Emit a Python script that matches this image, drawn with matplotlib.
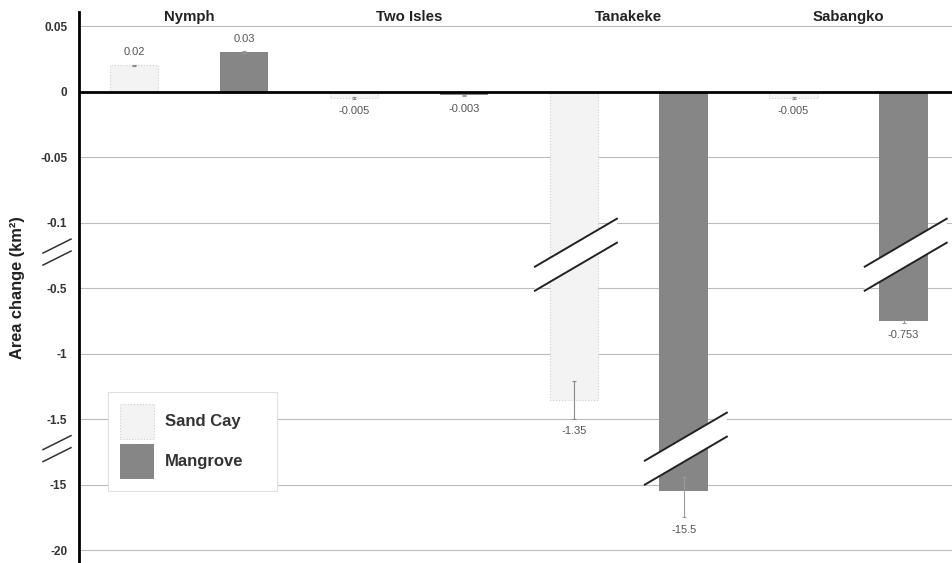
import numpy as np
import matplotlib
matplotlib.use("Agg")
import matplotlib.pyplot as plt
import matplotlib.transforms as mtransforms
from matplotlib.patches import Polygon
from matplotlib.lines import Line2D

plt.rcParams['font.family'] = ['Liberation Sans', 'DejaVu Sans']

# ---- data ----
sites = ["Nymph", "Two Isles", "Tanakeke", "Sabangko"]
sand_cay = [0.02, -0.005, -1.35, -0.005]
mangrove = [0.03, -0.003, -15.5, -0.753]
sand_err = [0.0006, 0.0005, 0.145, 0.0005]
mangrove_err = [0.0006, 0.0003, 2.0, 0.01]
tick_values = [0.05, 0, -0.05, -0.1, -0.5, -1, -1.5, -15, -20]
tick_labels = ["0.05", "0", "-0.05", "-0.1", "-0.5", "-1", "-1.5", "-15", "-20"]

# broken axis: piecewise-linear scale
data_knots = np.array([-20, -15, -1.5, -0.5, -0.1, 0.05])
pos_knots = np.array([-7, -6, -5, -3, -2, 1.0])

def forward(v):
    v = np.asarray(v, dtype=float)
    out = np.interp(v, data_knots, pos_knots)
    out = np.where(v > data_knots[-1], pos_knots[-1] + (v - data_knots[-1]) / 0.05, out)
    out = np.where(v < data_knots[0], pos_knots[0] + (v - data_knots[0]) / 5.0, out)
    return out

def inverse(p):
    p = np.asarray(p, dtype=float)
    out = np.interp(p, pos_knots, data_knots)
    out = np.where(p > pos_knots[-1], data_knots[-1] + (p - pos_knots[-1]) * 0.05, out)
    out = np.where(p < pos_knots[0], data_knots[0] + (p - pos_knots[0]) * 5.0, out)
    return out

W, H = 953, 563
fig = plt.figure(figsize=(W / 100, H / 100), dpi=100)
ax = fig.add_axes([79 / W, 1 - 562 / H, (W - 79) / W, 550 / H])
ax.set_yscale('function', functions=(forward, inverse))

pos_bottom, pos_top = -7.18, 1.214
ax.set_ylim(float(inverse(pos_bottom)), float(inverse(pos_top)))
ax.set_xlim(-0.5, 7.45)

n = len(sites)
x_sand = np.arange(n) * 2
x_mang = np.arange(n) * 2 + 1
bw = 0.44

b1 = ax.bar(x_sand, sand_cay, bw, yerr=sand_err, color='#f3f3f3', edgecolor='#cfcfcf',
            linewidth=0.8, linestyle=':', label='Sand Cay', zorder=2,
            error_kw=dict(ecolor='#8a8a8a', elinewidth=0.8, capsize=1.5, capthick=0.8))
b2 = ax.bar(x_mang, mangrove, bw, yerr=mangrove_err, color='#868686', edgecolor='none',
            label='Mangrove', zorder=2,
            error_kw=dict(ecolor='#9a9a9a', elinewidth=0.8, capsize=1.5, capthick=0.8))

ax.bar_label(b1, labels=[f"{v:g}" for v in sand_cay], padding=5.5, fontsize=8, color='#555555')
ax.bar_label(b2, labels=[f"{v:g}" for v in mangrove], padding=5.5, fontsize=8, color='#555555')

ax.set_yticks(tick_values)
ax.set_yticklabels(tick_labels, fontsize=8.5, fontweight='bold', color='#333333')
ax.tick_params(axis='y', length=0, pad=8.5)
ax.set_xticks([])
ax.yaxis.grid(True, color='#bcbcbc', linewidth=0.8)
ax.set_axisbelow(True)
for s in ['top', 'right', 'bottom']:
    ax.spines[s].set_visible(False)
ax.spines['left'].set_linewidth(2)
ax.spines['left'].set_color('black')
ax.axhline(0, color='black', linewidth=2, zorder=3)

fig.text(18 / W, 1 - 288 / H, "Area change (km²)", rotation=90, ha='center', va='center',
         fontsize=11.8, fontweight='bold', color='#222222')

blend = mtransforms.blended_transform_factory(ax.transData, ax.transAxes)
for i, name in enumerate(sites):
    ax.text(2 * i + 0.5, 0.991, name, transform=blend, ha='center', va='center',
            fontsize=10.8, fontweight='bold', color='#222222')

def frac(p):
    return (p - pos_bottom) / (pos_top - pos_bottom)

# break bands on long bars
hw, rise, off = 0.373, 24 / 550, 12 / 550
for bx, bp in [(x_sand[2] + 0.02, -2.49), (x_mang[2] + 0.02, -5.45), (x_mang[3] + 0.02, -2.49)]:
    cy = frac(bp)
    poly = Polygon([(bx - hw, cy - rise + off), (bx + hw, cy + rise + off),
                    (bx + hw, cy + rise - off), (bx - hw, cy - rise - off)],
                   closed=True, transform=blend, facecolor='white', edgecolor='none', zorder=5)
    ax.add_patch(poly)
    for o in (off, -off):
        ax.add_line(Line2D([bx - hw, bx + hw], [cy - rise + o, cy + rise + o], transform=blend,
                           color='#222222', linewidth=1.4, zorder=6))

# break marks on the y axis
axw = (W - 79)
cxa, hwa, risea, offa = (57 - 79) / axw, 14 / axw, 7 / 550, 6 / 550
for bp in (-2.45, -5.45):
    cy = frac(bp)
    for o in (offa, -offa):
        ax.add_line(Line2D([cxa - hwa, cxa + hwa], [cy - risea + o, cy + risea + o],
                           transform=ax.transAxes, color='#333333', linewidth=1.1, clip_on=False))

leg = ax.legend(loc='upper left', mode='expand',
                bbox_to_anchor=(108 / W, 1 - 488 / H, 169 / W, 96 / H), bbox_transform=fig.transFigure,
                borderaxespad=0, fontsize=12, handlelength=2.05, handleheight=2.85,
                labelspacing=0.3, handletextpad=0.66, borderpad=0.72, fancybox=False,
                edgecolor='#e0e0e0', framealpha=1)
for t in leg.get_texts():
    t.set_fontweight('bold')
    t.set_color('#333333')
leg.get_frame().set_linewidth(0.8)
leg.set_zorder(7)

fig.savefig("out.png", dpi=100)
